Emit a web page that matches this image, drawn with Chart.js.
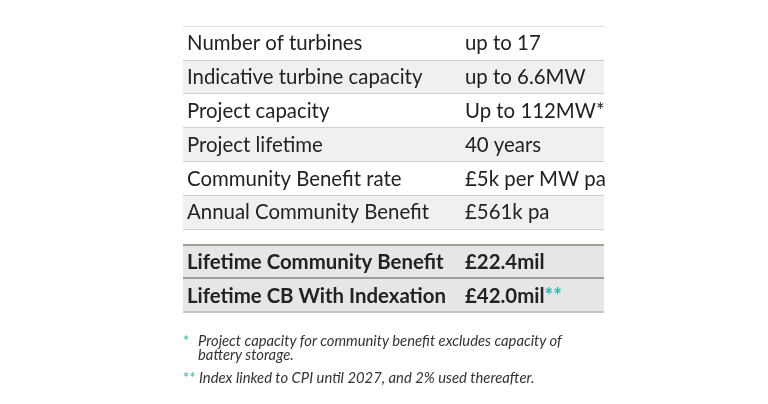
<!DOCTYPE html>
<html><head><meta charset="utf-8">
<script src="https://cdn.jsdelivr.net/npm/chart.js@4"></script>
<style>
html,body{margin:0;padding:0;background:#fff;width:768px;height:404px;overflow:hidden;font-family:Lato,"Open Sans",sans-serif}
#wrap{position:absolute;left:0;top:0;width:768px;height:404px}
.fn{position:absolute;left:183px;font-style:italic;font-size:14.8px;color:#333;line-height:14px}
.fn .s{color:#2bb5b0;font-style:normal;display:inline-block;width:15px}
</style></head><body>
<div id="wrap"><canvas id="c" width="768" height="404"></canvas></div>
<div class="fn" style="top:333px"><span class="s">*</span>Project capacity for community benefit excludes capacity of<br><span class="s"></span>battery storage.</div>
<div class="fn" style="top:370px"><span class="s" style="width:16px">**</span>Index linked to CPI until 2027, and 2% used thereafter.</div>
<script>
const labels = ["Number of turbines","Indicative turbine capacity","Project capacity","Project lifetime","Community Benefit rate","Annual Community Benefit","Lifetime Community Benefit","Lifetime CB With Indexation"];
const values = ["up to 17","up to 6.6MW","Up to 112MW*","40 years","£5k per MW pa","£561k pa","£22.4mil","£42.0mil"];
const suffixes = ["","","","","","","","**"];
const bold = [false,false,false,false,false,false,true,true];
const GAP = 0.47;
const centers = labels.map((_,i)=> i + 0.5 + (i>=6?GAP:0));
const fills = labels.map((_,i)=> bold[i] ? '#e6e6e6' : (i%2===1 ? '#f0f0f0' : '#ffffff'));

const textPlugin = {
  id:'tbl',
  beforeDatasetsDraw(chart){
    const {ctx, scales:{x,y}} = chart;
    const L = x.getPixelForValue(0), R = x.getPixelForValue(1);
    ctx.save();
    centers.forEach((c,i)=>{const t=y.getPixelForValue(c-0.5),b=y.getPixelForValue(c+0.5);ctx.fillStyle=fills[i];ctx.fillRect(L,t,R-L,b-t);});
    ctx.restore();
  },
  afterDatasetsDraw(chart){
    const {ctx, scales:{x,y}} = chart;
    const L = x.getPixelForValue(0), R = x.getPixelForValue(1);
    ctx.save();
    const line=(v,col,w)=>{const p=Math.round(y.getPixelForValue(v))+(w%2?0.5:0);ctx.strokeStyle=col;ctx.lineWidth=w;ctx.beginPath();ctx.moveTo(L,p);ctx.lineTo(R,p);ctx.stroke();};
    line(0,'#dddddd',1);
    for(let i=1;i<=6;i++) line(i,'#cfcfcf',1);
    line(6+GAP,'#a59c96',2);
    line(7+GAP,'#a59c96',2);
    line(8+GAP,'#c4c4c4',2);
    ctx.textBaseline='middle';
    labels.forEach((lab,i)=>{
      const py=y.getPixelForValue(centers[i])+1;
      ctx.font=(bold[i]?'bold ':'')+'20.4px Lato, "Open Sans", sans-serif';
      ctx.fillStyle='#222';
      ctx.fillText(lab,L+4,py);
      const vx=L+282;
      ctx.fillText(values[i],vx,py);
      if(suffixes[i]){const w=ctx.measureText(values[i]).width;ctx.fillStyle='#2bb5b0';ctx.fillText(suffixes[i],vx+w,py);}
    });
    ctx.restore();
  }
};

new Chart(document.getElementById('c'),{
  type:'bar',
  data:{datasets:[{data:labels.map((_,i)=>({x:[0,1],y:centers[i]})),backgroundColor:fills,borderWidth:0,barPercentage:1,categoryPercentage:1}]},
  options:{
    indexAxis:'y',responsive:false,animation:false,
    layout:{padding:{left:183,right:164,top:10,bottom:76}},
    plugins:{legend:{display:false},tooltip:{enabled:false}},
    scales:{
      x:{type:'linear',min:0,max:1,display:false},
      y:{type:'linear',min:0,max:8+GAP,reverse:true,display:false}
    }
  },
  plugins:[textPlugin]
});
</script></body></html>
